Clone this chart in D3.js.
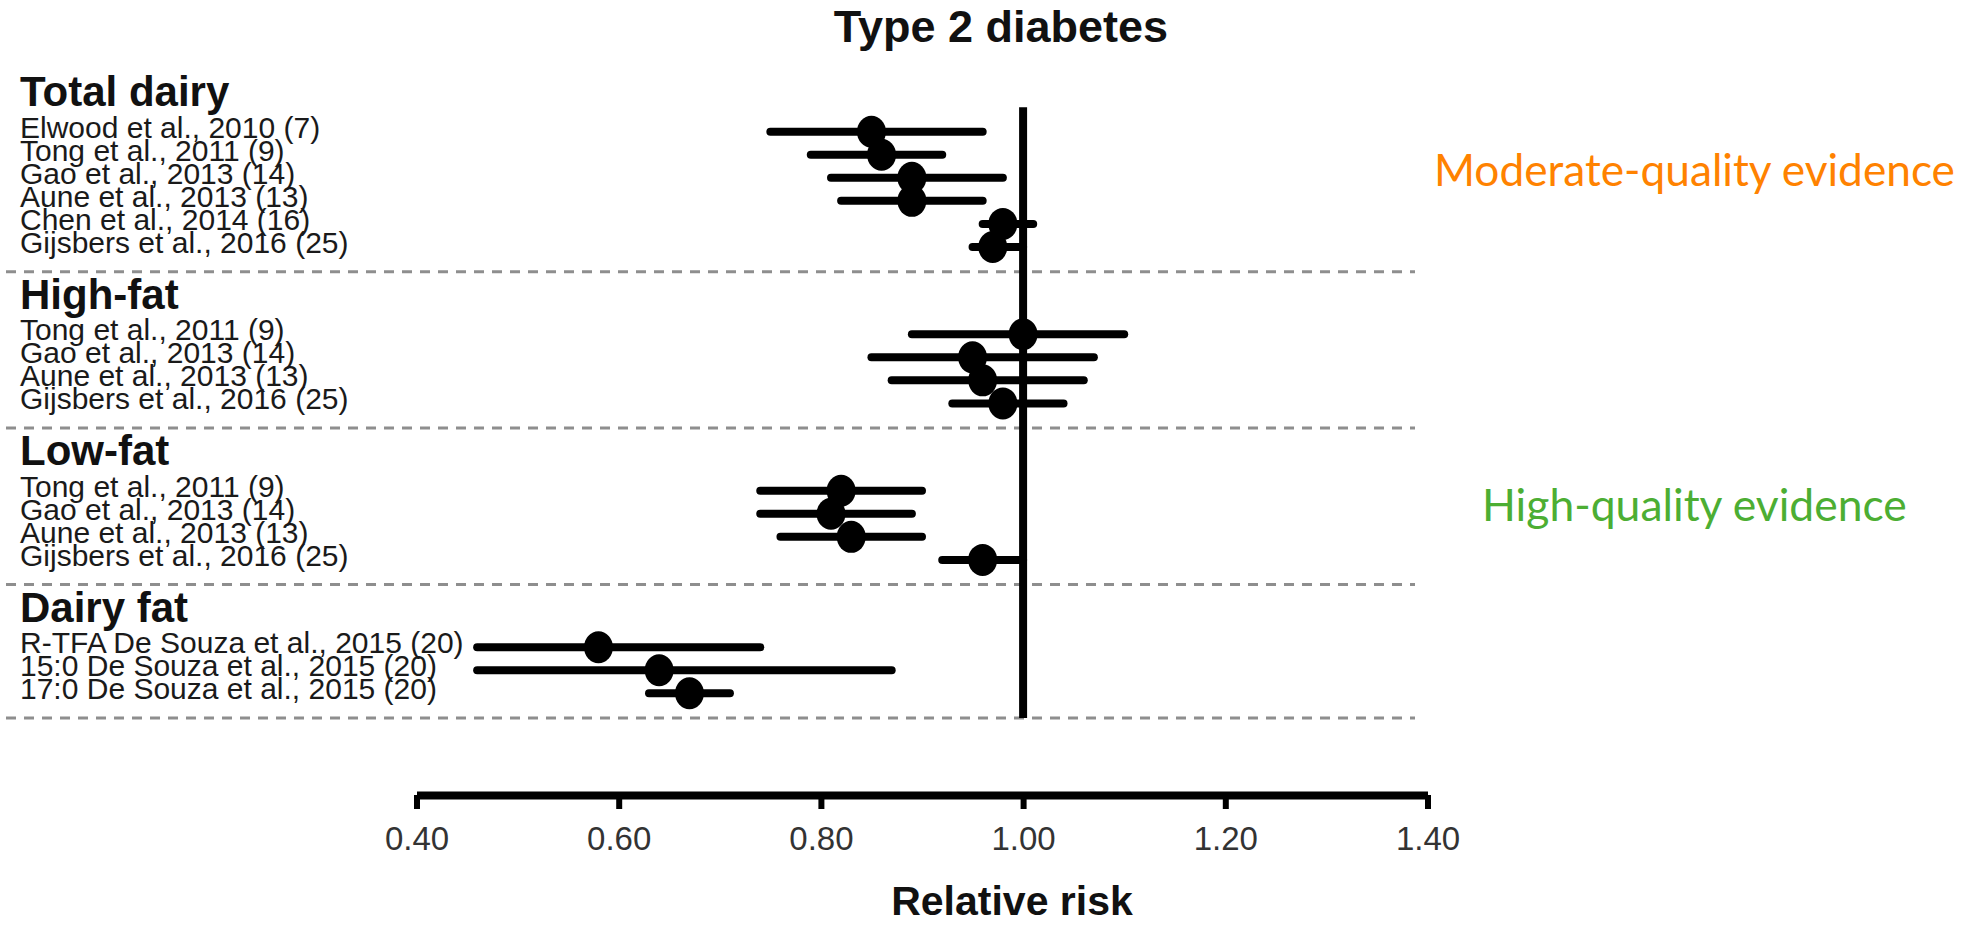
<!DOCTYPE html>
<html><head><meta charset="utf-8">
<script src="https://cdn.jsdelivr.net/npm/d3@7"></script>
<style>html,body{margin:0;padding:0;background:#fff;} svg{display:block;}</style>
</head><body>
<svg id="chart" width="1969" height="926"></svg>
<script>
// ---------- data ----------
const chartTitle = "Type 2 diabetes";
const xAxisTitle = "Relative risk";
const groupNames = ["Total dairy", "High-fat", "Low-fat", "Dairy fat"];
const studyLabels = [
  "Elwood et al., 2010 (7)", "Tong et al., 2011 (9)", "Gao et al., 2013 (14)",
  "Aune et al., 2013 (13)", "Chen et al., 2014 (16)", "Gijsbers et al., 2016 (25)",
  "Tong et al., 2011 (9)", "Gao et al., 2013 (14)", "Aune et al., 2013 (13)", "Gijsbers et al., 2016 (25)",
  "Tong et al., 2011 (9)", "Gao et al., 2013 (14)", "Aune et al., 2013 (13)", "Gijsbers et al., 2016 (25)",
  "R-TFA De Souza et al., 2015 (20)", "15:0 De Souza et al., 2015 (20)", "17:0 De Souza et al., 2015 (20)"
];
const studyGroup = [0,0,0,0,0,0, 1,1,1,1, 2,2,2,2, 3,3,3];
const estimates  = [0.85,0.86,0.89,0.89,0.98,0.97, 1.00,0.95,0.96,0.98, 0.82,0.81,0.83,0.96, 0.58,0.64,0.67];
const lowerCI    = [0.75,0.79,0.81,0.82,0.96,0.95, 0.89,0.85,0.87,0.93, 0.74,0.74,0.76,0.92, 0.46,0.46,0.63];
const upperCI    = [0.96,0.92,0.98,0.96,1.01,1.00, 1.10,1.07,1.06,1.04, 0.90,0.89,0.90,1.00, 0.74,0.87,0.71];
const xTicks = [0.40, 0.60, 0.80, 1.00, 1.20, 1.40];
const referenceValue = 1.00;
const evidenceLabels = ["Moderate-quality evidence", "High-quality evidence"];
const evidenceColors = ["#ff8200", "#4cae33"];

// ---------- layout ----------
const svg = d3.select("#chart");
const x = d3.scaleLinear().domain([0.4, 1.4]).range([416.5, 1427.5]);
const y = d3.scaleLinear().domain([0, 1]).range([131.7, 131.7 + 23.05]); // one unit per study row
const gapAfter = 1.072, gapBefore = 2.716, headerOffset = 1.106;

const rowUnit = [], dashedUnit = [], headerUnit = [];
let u = 0;
groupNames.forEach((g, gi) => {
  const idx = studyGroup.map((v, i) => v === gi ? i : -1).filter(i => i >= 0);
  if (gi > 0) u = dashedUnit[gi - 1] + gapBefore;
  headerUnit.push(u - headerOffset);
  idx.forEach((i, k) => { rowUnit[i] = u + k; });
  dashedUnit.push(u + idx.length - 1 + gapAfter);
});

// title
svg.append("text").attr("x", 1001).attr("y", 42).attr("text-anchor", "middle")
  .attr("font-family", "Liberation Sans, Arial, sans-serif").attr("font-weight", "bold")
  .attr("font-size", 45).attr("fill", "#111").text(chartTitle);

// dashed separators
svg.append("g").selectAll("line").data(dashedUnit).join("line")
  .attr("x1", 6).attr("x2", 1415)
  .attr("y1", d => y(d)).attr("y2", d => y(d))
  .attr("stroke", "#8e8e8e").attr("stroke-width", 3).attr("stroke-dasharray", "10 8");

// group headers
svg.append("g").selectAll("text").data(groupNames).join("text")
  .attr("x", 20).attr("y", (d, i) => y(headerUnit[i]))
  .attr("font-family", "Liberation Sans, Arial, sans-serif").attr("font-weight", "bold")
  .attr("font-size", 42).attr("fill", "#111").text(d => d);

// study labels
svg.append("g").selectAll("text").data(studyLabels).join("text")
  .attr("x", 20).attr("y", (d, i) => y(rowUnit[i]) + 6)
  .attr("font-family", "Liberation Sans, Arial, sans-serif")
  .attr("font-size", 30).attr("fill", "#1a1a1a").text(d => d);

// reference line
svg.append("line")
  .attr("x1", x(referenceValue)).attr("x2", x(referenceValue))
  .attr("y1", 107.3).attr("y2", y(dashedUnit[dashedUnit.length - 1]))
  .attr("stroke", "#000").attr("stroke-width", 8);

// CI lines
svg.append("g").selectAll("line").data(estimates).join("line")
  .attr("x1", (d, i) => x(lowerCI[i])).attr("x2", (d, i) => x(upperCI[i]))
  .attr("y1", (d, i) => y(rowUnit[i])).attr("y2", (d, i) => y(rowUnit[i]))
  .attr("stroke", "#000").attr("stroke-width", 8).attr("stroke-linecap", "round");

// point estimates
svg.append("g").selectAll("ellipse").data(estimates).join("ellipse")
  .attr("cx", d => x(d)).attr("cy", (d, i) => y(rowUnit[i]))
  .attr("rx", 14.5).attr("ry", 16).attr("fill", "#000");

// x axis
const axis = svg.append("g").attr("transform", "translate(0,795)")
  .call(d3.axisBottom(x).tickValues(xTicks).tickFormat(d3.format(".2f"))
    .tickSize(14).tickSizeOuter(0).tickPadding(18));
axis.select(".domain").attr("stroke", "#000").attr("stroke-width", 8);
axis.selectAll(".tick line").attr("stroke", "#000").attr("stroke-width", 6);
axis.selectAll(".tick text").attr("font-family", "Liberation Sans, Arial, sans-serif")
  .attr("font-size", 33).attr("fill", "#333");

svg.append("text").attr("x", 1012).attr("y", 915).attr("text-anchor", "middle")
  .attr("font-family", "Liberation Sans, Arial, sans-serif").attr("font-weight", "bold")
  .attr("font-size", 41).attr("fill", "#111").text(xAxisTitle);

// evidence annotations
const evX = [1434, 1482], evY = [186, 521], evW = [521, 425];
svg.append("g").selectAll("text").data(evidenceLabels).join("text")
  .attr("x", (d, i) => evX[i]).attr("y", (d, i) => evY[i])
  .attr("font-family", "Lato, 'Open Sans', sans-serif")
  .attr("font-size", 40).attr("fill", (d, i) => evidenceColors[i]).text(d => d)
  .each(function (d, i) {
    const w = this.getComputedTextLength();
    d3.select(this).attr("font-size", 40 * evW[i] / w);
  });
</script>
</body></html>
